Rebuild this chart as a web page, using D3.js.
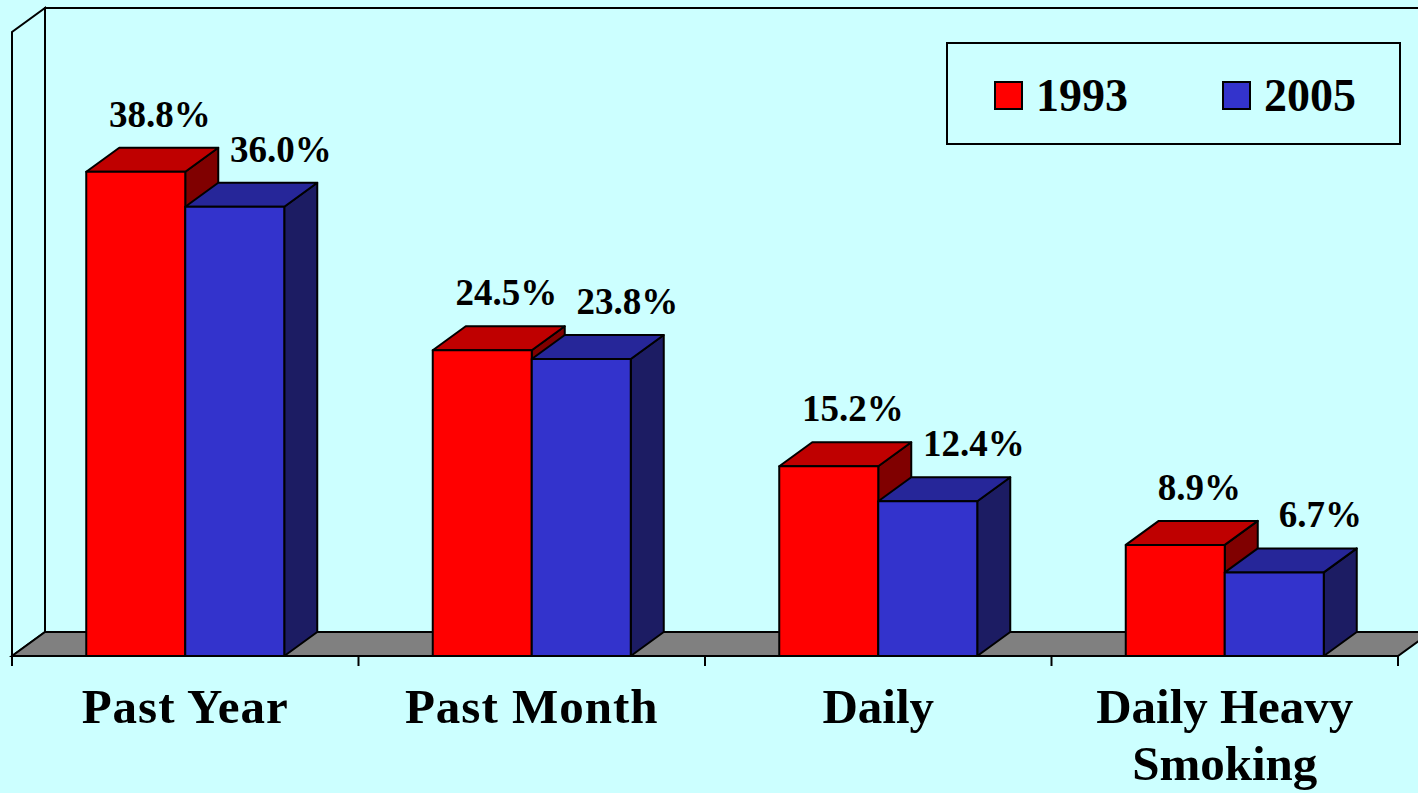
<!DOCTYPE html>
<html>
<head>
<meta charset="utf-8">
<script src="https://cdn.jsdelivr.net/npm/d3@7"></script>
<style>
  html, body { margin: 0; padding: 0; background: #ccffff; overflow: hidden; }
  svg { display: block; }
  text { font-family: "Liberation Serif", "Times New Roman", serif; font-weight: bold; fill: #000; }
</style>
</head>
<body>
<svg id="chart" width="1418" height="793"></svg>
<script>
// chart data
const categories = [['Past Year'], ['Past Month'], ['Daily'], ['Daily Heavy', 'Smoking']];
const series = ['1993', '2005'];
const values1993 = [38.8, 24.5, 15.2, 8.9];
const values2005 = [36.0, 23.8, 12.4, 6.7];

const colors = {
  '1993': { front: '#ff0000', top: '#bf0000', side: '#800000' },
  '2005': { front: '#3333cc', top: '#262699', side: '#1c1c63' }
};

const svg = d3.select('#chart');
const W = 1418, H = 793;
const dx = 33, dy = 24;           // 3D depth offset
const left = 12, right = 1398;   // front floor line ends
const floorY = 656, topY = 32;   // front coordinates of value range

const catNames = categories.map(c => c.join(' '));
const x0 = d3.scaleBand().domain(catNames).range([left, right]);
const x1 = d3.scaleBand().domain(series).range([0, x0.bandwidth()]).paddingOuter(0.75);
const y = d3.scaleLinear().domain([0, 50]).range([floorY, topY]);

// walls
svg.append('path')   // left wall
  .attr('d', `M${left},${floorY}L${left},${topY}L${left + dx},${topY - dy}L${left + dx},${floorY - dy}Z`)
  .attr('fill', '#ccffff').attr('stroke', '#000').attr('stroke-width', 2);
svg.append('path')   // back wall outline
  .attr('d', `M${left + dx},${floorY - dy}L${left + dx},${topY - dy}L${W + 20},${topY - dy}`)
  .attr('fill', 'none').attr('stroke', '#000').attr('stroke-width', 2);

// floor
svg.append('path')
  .attr('d', `M${left},${floorY}L${left + dx},${floorY - dy}L${right + dx},${floorY - dy}L${right},${floorY}Z`)
  .attr('fill', '#808080').attr('stroke', '#000').attr('stroke-width', 2);

// category ticks
svg.append('g').selectAll('line')
  .data(d3.range(catNames.length + 1))
  .join('line')
  .attr('x1', i => left + i * x0.bandwidth())
  .attr('x2', i => left + i * x0.bandwidth())
  .attr('y1', floorY).attr('y2', floorY + 10)
  .attr('stroke', '#000').attr('stroke-width', 2);

// bars
const bars = [];
catNames.forEach((c, i) => {
  bars.push({ cat: c, s: '1993', v: values1993[i] });
  bars.push({ cat: c, s: '2005', v: values2005[i] });
});

const g = svg.append('g');
bars.forEach(d => {
  const xa = x0(d.cat) + x1(d.s);
  const xb = xa + x1.bandwidth();
  const yt = y(d.v);
  const col = colors[d.s];
  const box = g.append('g').attr('stroke', '#000').attr('stroke-width', 2).attr('stroke-linejoin', 'round');
  box.append('path')  // side
    .attr('d', `M${xb},${floorY}L${xb},${yt}L${xb + dx},${yt - dy}L${xb + dx},${floorY - dy}Z`)
    .attr('fill', col.side);
  box.append('path')  // top
    .attr('d', `M${xa},${yt}L${xa + dx},${yt - dy}L${xb + dx},${yt - dy}L${xb},${yt}Z`)
    .attr('fill', col.top);
  box.append('rect')  // front
    .attr('x', xa).attr('y', yt).attr('width', xb - xa).attr('height', floorY - yt)
    .attr('fill', col.front);
});

// value labels
const labelShift = { '1993': 24, '2005': 46 };
svg.append('g').selectAll('text')
  .data(bars)
  .join('text')
  .attr('x', d => x0(d.cat) + x1(d.s) + x1.bandwidth() / 2 + labelShift[d.s])
  .attr('y', d => y(d.v) - 45)
  .attr('text-anchor', 'middle')
  .attr('font-size', 37)
  .text(d => d.v.toFixed(1) + '%');

// category labels
const catLabels = svg.append('g').selectAll('text')
  .data(categories)
  .join('text')
  .attr('x', (d, i) => x0(catNames[i]) + x0.bandwidth() / 2)
  .attr('y', 723)
  .attr('text-anchor', 'middle')
  .attr('font-size', 49)
  .attr('letter-spacing', (d, i) => i < 2 ? 1 : 0);
catLabels.selectAll('tspan')
  .data(d => d)
  .join('tspan')
  .attr('x', function() { return d3.select(this.parentNode).attr('x'); })
  .attr('dy', (d, i) => i === 0 ? 0 : 57)
  .text(d => d);

// legend
const legend = svg.append('g');
legend.append('rect')
  .attr('x', 947).attr('y', 43).attr('width', 453).attr('height', 101)
  .attr('fill', '#ccffff').attr('stroke', '#000').attr('stroke-width', 2);
const legendX = d3.scalePoint().domain(series).range([995, 1223]);
const items = legend.selectAll('g.item')
  .data(series)
  .join('g').attr('class', 'item')
  .attr('transform', d => `translate(${legendX(d)},82)`);
items.append('rect')
  .attr('width', 27).attr('height', 27)
  .attr('fill', d => colors[d].front).attr('stroke', '#000').attr('stroke-width', 2);
items.append('text')
  .attr('x', 41).attr('y', 29)
  .attr('font-size', 46)
  .text(d => d);
</script>
</body>
</html>
